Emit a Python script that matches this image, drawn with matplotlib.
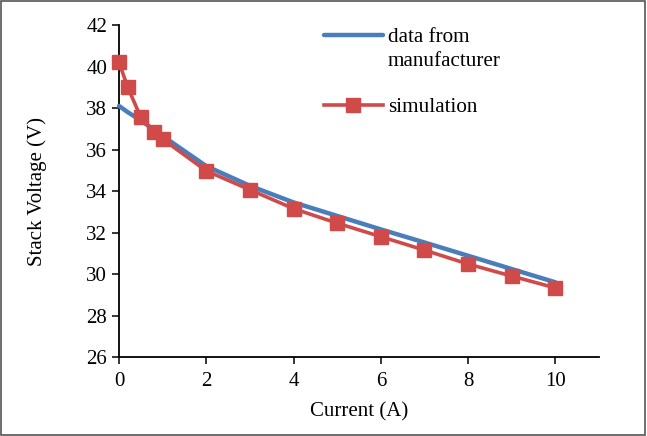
import matplotlib
matplotlib.use("Agg")
import matplotlib.pyplot as plt
from matplotlib.patches import Rectangle
from matplotlib.lines import Line2D

plt.rcParams['font.family'] = ['Liberation Serif', 'DejaVu Serif']

current_sim = [0, 0.2, 0.5, 0.8, 1, 2, 3, 4, 5, 6, 7, 8, 9, 10]
voltage_sim = [40.2, 39.0, 37.55, 36.85, 36.5, 34.97, 34.06, 33.15, 32.45, 31.8, 31.15, 30.48, 29.9, 29.33]

current_man = [0, 0.2, 0.5, 0.8, 1, 2, 3, 4, 5, 6, 7, 8, 9, 10]
voltage_man = [38.1, 37.8, 37.4, 36.95, 36.65, 35.2, 34.25, 33.45, 32.8, 32.15, 31.52, 30.88, 30.24, 29.6]

xticks = [0, 2, 4, 6, 8, 10]
yticks = [26, 28, 30, 32, 34, 36, 38, 40, 42]

blue = '#4A7EBB'
red = '#D04A4A'
fs = 15

fig = plt.figure(figsize=(6.47, 4.36), dpi=100)
ax = fig.add_axes([119/647, 1-357/436, (599-119)/647, (357-25)/436])

l_man, = ax.plot(current_man, voltage_man, color=blue, lw=3.2, solid_capstyle='round',
                 zorder=2, clip_on=False)
l_sim, = ax.plot(current_sim, voltage_sim, color=red, lw=2.6, marker='s', markersize=9.5,
                 markeredgecolor=red, markerfacecolor=red, zorder=3, clip_on=False)

ax.set_xlim(0, 11)
ax.set_ylim(26, 42)
ax.set_xticks(xticks)
ax.set_yticks(yticks)
ax.tick_params(direction='out', length=5, width=1.1, labelsize=fs, color='black')
ax.tick_params(axis='x', pad=6)
for s in ['top', 'right']:
    ax.spines[s].set_visible(False)
for s in ['left', 'bottom']:
    ax.spines[s].set_linewidth(1.3)
    ax.spines[s].set_zorder(1)

ax.set_xlabel('Current (A)', fontsize=fs, labelpad=8)
ax.set_ylabel('Stack Voltage (V)', fontsize=fs, labelpad=28)

blank = Line2D([], [], linestyle='none')
leg = ax.legend([l_man, blank, blank, l_sim], ['data from', 'manufacturer', ' ', 'simulation'],
                loc='upper left', bbox_to_anchor=(313/647, 1-17/436),
                bbox_transform=fig.transFigure, frameon=False, fontsize=15.2,
                handlelength=2.8, handletextpad=0.25, labelspacing=0.17,
                borderpad=0)

fig.patches.append(Rectangle((0.002, 0.003), 0.995, 0.994, transform=fig.transFigure,
                             fill=False, edgecolor='#555555', lw=1.2))

fig.savefig('out.png', dpi=100)
